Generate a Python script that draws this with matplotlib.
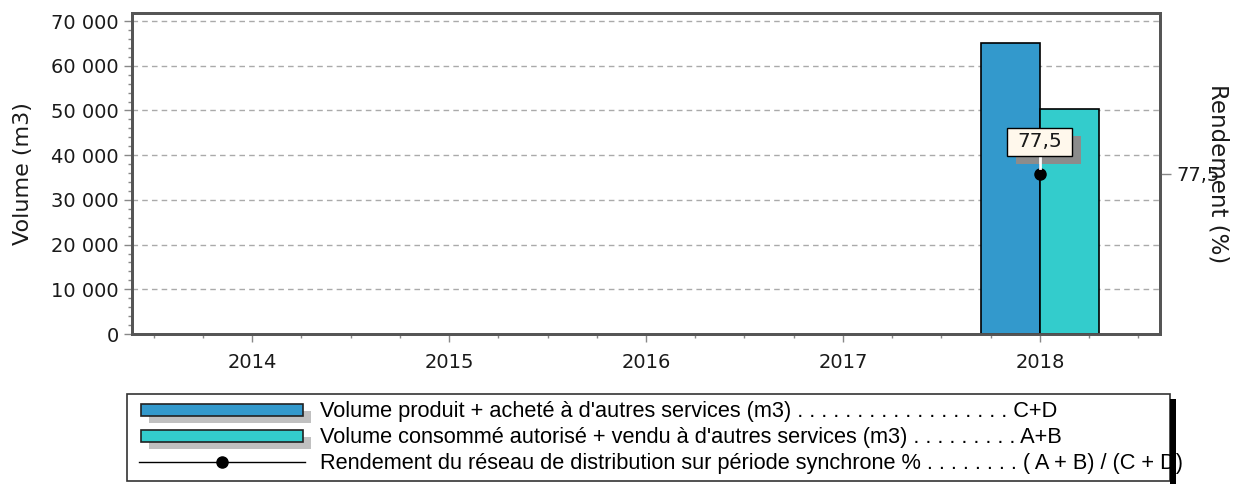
import numpy as np
import matplotlib
matplotlib.use("Agg")
import matplotlib.pyplot as plt
from matplotlib.patches import Rectangle
from matplotlib.transforms import ScaledTranslation
from matplotlib.ticker import FuncFormatter, MultipleLocator, FixedLocator

# data
years = [2014, 2015, 2016, 2017, 2018]
volume_produit = [np.nan, np.nan, np.nan, np.nan, 65000]
volume_consomme = [np.nan, np.nan, np.nan, np.nan, 50375]
rendement = [np.nan, np.nan, np.nan, np.nan, 77.5]

legend_labels = [
    "Volume produit + acheté à d'autres services (m3) " + ". " * 18 + "C+D",
    "Volume consommé autorisé + vendu à d'autres services (m3) " + ". " * 9 + "A+B",
    "Rendement du réseau de distribution sur période synchrone % " + ". " * 8 + "( A + B) / (C + D)",
]

c_blue = "#3399CC"
c_teal = "#33CCCC"
frame = "#555555"

W, H = 1239, 484
fig = plt.figure(figsize=(W / 100, H / 100), dpi=100)
plt.rcParams["font.family"] = "DejaVu Sans"

ax = fig.add_axes([132 / W, 1 - 334 / H, (1160 - 132) / W, (334 - 13) / H])
x = np.array(years, dtype=float)
vp = np.array(volume_produit, dtype=float)
vc = np.array(volume_consomme, dtype=float)
m1 = ~np.isnan(vp)
m2 = ~np.isnan(vc)
ax.bar(x[m1] - 0.15, vp[m1], width=0.3, color=c_blue, edgecolor="black", linewidth=1.2, zorder=3)
ax.bar(x[m2] + 0.15, vc[m2], width=0.3, color=c_teal, edgecolor="black", linewidth=1.2, zorder=3)

ax.set_xlim(2013.39, 2018.61)
ax.set_ylim(0, 71800)
ax.set_xticks(years)
ax.xaxis.set_minor_locator(MultipleLocator(0.25))
ax.yaxis.set_major_locator(FixedLocator(np.arange(0, 70001, 10000)))
ax.yaxis.set_minor_locator(MultipleLocator(2000))
ax.yaxis.set_major_formatter(FuncFormatter(lambda v, p: f"{int(v):,}".replace(",", " ")))
ax.grid(axis="y", which="major", linestyle=(0, (4, 3)), color="#AAAAAA", linewidth=1, zorder=0)
for s in ax.spines.values():
    s.set_color(frame)
    s.set_linewidth(2)
ax.tick_params(axis="both", which="major", length=6, width=1, color="#888888", labelsize=14, labelcolor="#1a1a1a")
ax.tick_params(axis="both", which="minor", length=3, width=1, color="#888888")
ax.tick_params(axis="x", pad=8)
ax.text(-0.106, 0.5, "Volume (m3)", transform=ax.transAxes, rotation=90, ha="center", va="center",
        fontsize=16, color="#1a1a1a")

ax2 = ax.twinx()
r = np.array(rendement, dtype=float)
ax2.plot(x, r, color="black", marker="o", markersize=8, linewidth=1, zorder=5)
ax2.set_ylim(77.0, 78.0)
ax2.set_yticks([77.5])
ax2.yaxis.set_major_formatter(FuncFormatter(lambda v, p: f"{v:.1f}".replace(".", ",")))
ax2.tick_params(axis="y", length=8, width=1, color="#888888", labelsize=14, labelcolor="#1a1a1a")
ax2.text(1.056, 0.5, "Rendement (%)", transform=ax2.transAxes, rotation=-90, ha="center", va="center",
         fontsize=16.5, color="#1a1a1a")
for s in ax2.spines.values():
    s.set_color(frame)
    s.set_linewidth(2)

# value label boxes above the line points
for xv, v in zip(x, r):
    if np.isnan(v):
        continue
    anchor = fig.dpi_scale_trans + ScaledTranslation(xv, v, ax2.transData)
    ax2.add_artist(Rectangle((-0.24, 0.10), 0.65, 0.28, transform=anchor, facecolor="#8C8C8C",
                             edgecolor="none", zorder=6, clip_on=False))
    ax2.add_artist(Rectangle((-0.33, 0.18), 0.65, 0.28, transform=anchor, facecolor="#FFF8EC",
                             edgecolor="black", linewidth=1, zorder=7, clip_on=False))
    ax2.plot([0, 0], [0.18, 0.06], color="white", linewidth=2, transform=anchor, zorder=6)
    ax2.text(-0.005, 0.32, f"{v:.1f}".replace(".", ","), transform=anchor, ha="center", va="center",
             fontsize=14.5, color="#1a1a1a", zorder=8)

# legend box drawn in pixel coordinates
lax = fig.add_axes([0, 0, 1, 1])
lax.set_xlim(0, W)
lax.set_ylim(H, 0)
lax.axis("off")
lax.add_patch(Rectangle((127, 394), 1170 - 127, 87, facecolor="white", edgecolor="#333333", linewidth=1.2, zorder=1))
rows = [410, 436, 462]
colors = [c_blue, c_teal]
for i, lab in enumerate(legend_labels):
    y = rows[i]
    if i < 2:
        lax.add_patch(Rectangle((149, y - 6 + 7), 162, 12, facecolor="#C0C0C0", edgecolor="none", zorder=2))
        lax.add_patch(Rectangle((141, y - 6), 162, 12, facecolor=colors[i], edgecolor="#222222", linewidth=1.2, zorder=3))
    else:
        lax.plot([139, 305], [y, y], color="black", linewidth=1, zorder=3)
        lax.plot([222], [y], marker="o", color="black", markersize=8, zorder=4)
    lax.text(320, y + 2, lab, ha="left", va="center", fontsize=15.7, family="Liberation Sans", color="black", zorder=3)
lax.add_patch(Rectangle((1170, 399), 6, 85, facecolor="black", edgecolor="none", zorder=5))

fig.savefig("out.png", dpi=100)
